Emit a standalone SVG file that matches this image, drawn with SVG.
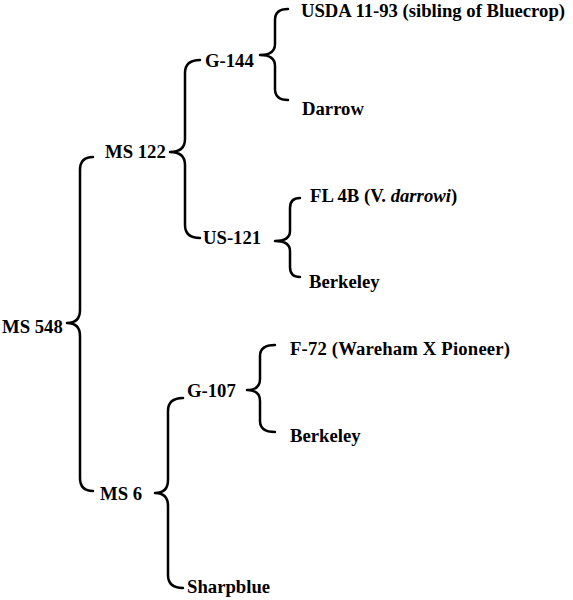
<svg xmlns="http://www.w3.org/2000/svg" width="573" height="600" viewBox="0 0 573 600">
<style>
.t{font-family:"Liberation Serif","Times New Roman",serif;font-weight:bold;font-size:18.7px;fill:#000}
.b{fill:none;stroke:#000;stroke-width:2.5;stroke-linecap:round;stroke-linejoin:round}
</style>
<rect width="573" height="600" fill="#fff"/>
<g id="connectors">
<path class="b" d="M93 157 Q80 157 80 170 L80 310 Q80 323 67 323 Q80 323 80 336 L80 478 Q80 491 93 491"/>
<path class="b" d="M200 60 Q185 60 185 73 L185 139 Q185 152 170 152 Q185 152 185 165 L185 225 Q185 238 200 238"/>
<path class="b" d="M288 9 Q275 9 275 20 L275 44 Q275 55 260 55 Q275 55 275 66 L275 89 Q275 100 288 100"/>
<path class="b" d="M300 198 Q290 198 290 208 L290 231 Q290 241 275 241 Q290 241 290 251 L290 267 Q290 277 300 277"/>
<path class="b" d="M183 398 Q168 398 168 411 L168 480 Q168 493 155 493 Q168 493 168 506 L168 575 Q168 588 183 588"/>
<path class="b" d="M275 345 Q260 345 260 356 L260 379 Q260 390 247 390 Q260 390 260 401 L260 421 Q260 432 275 432"/>
</g>
<g id="ms548"><text class="t" x="2" y="333">MS 548</text></g>
<g id="ms122"><text class="t" x="105" y="158">MS 122</text></g>
<g id="g144"><text class="t" x="205" y="67">G-144</text></g>
<g id="usda"><text class="t" x="301" y="17" textLength="264">USDA 11-93 (sibling of Bluecrop)</text></g>
<g id="darrow"><text class="t" x="302" y="115">Darrow</text></g>
<g id="us121"><text class="t" x="203" y="244">US-121</text></g>
<g id="fl4b"><text class="t" x="310" y="202">FL 4B (V. <tspan font-style="italic">darrowi</tspan>)</text></g>
<g id="berkeley1"><text class="t" x="309" y="288">Berkeley</text></g>
<g id="ms6"><text class="t" x="100" y="500">MS 6</text></g>
<g id="g107"><text class="t" x="187" y="397">G-107</text></g>
<g id="f72"><text class="t" x="290" y="355" textLength="220">F-72 (Wareham X Pioneer)</text></g>
<g id="berkeley2"><text class="t" x="290" y="442">Berkeley</text></g>
<g id="sharpblue"><text class="t" x="187" y="593">Sharpblue</text></g>
</svg>
